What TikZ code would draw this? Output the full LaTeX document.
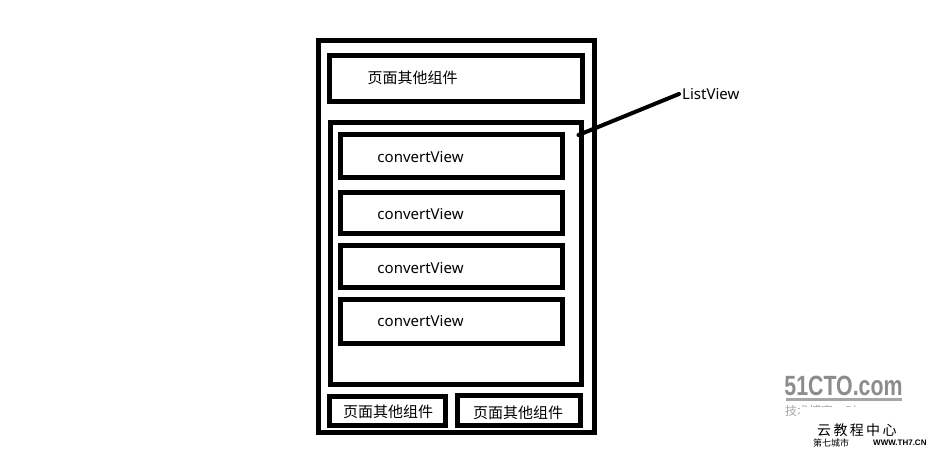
\documentclass[tikz,border=0pt]{standalone}
\usepackage{fontspec}
\setmainfont{Noto Sans}
\newfontfamily\cjk{Noto Sans CJK SC}
\newfontfamily\wmfont{Liberation Sans}
\begin{document}
\begin{tikzpicture}[x=1pt,y=-1pt,
  frame/.style={draw=black, line width=5pt, inner sep=0pt, outer sep=0pt, rectangle},
  lbl/.style={font=\fontsize{15}{18}\selectfont, inner sep=0pt},
  cn/.style={font=\cjk\fontsize{15}{18}\selectfont, inner sep=0pt},
  wm/.style={inner sep=0pt}]
\useasboundingbox[fill=white] (0,0) rectangle (929,449);
% outer phone frame
\node[frame, minimum width=275.5pt, minimum height=391.5pt] (outer) at (456.25,236.25) {};
% top component
\node[frame, minimum width=253pt, minimum height=46.5pt] (top) at (455.5,78.75) {};
\node[cn] (toptxt) at (412.5,78) {页面其他组件};
% ListView
\node[frame, minimum width=251pt, minimum height=262pt] (lv) at (455.5,253.5) {};
% convertViews
\node[frame, minimum width=222.5pt, minimum height=43pt] (cv1) at (451.25,156) {};
\node[frame, minimum width=222.5pt, minimum height=41.5pt] (cv2) at (451.25,213.25) {};
\node[frame, minimum width=222.5pt, minimum height=41.5pt] (cv3) at (451.25,266.75) {};
\node[frame, minimum width=222.5pt, minimum height=44pt] (cv4) at (451.25,321.5) {};
\node[lbl] (cv1t) at (420.5,157) {convertView};
\node[lbl] (cv2t) at (420.5,214) {convertView};
\node[lbl] (cv3t) at (420.5,268) {convertView};
\node[lbl] (cv4t) at (420.5,321.5) {convertView};
% bottom components
\node[frame, minimum width=116.5pt, minimum height=28.5pt] (bl) at (387.25,410.75) {};
\node[frame, minimum width=123pt, minimum height=30pt] (br) at (519,410.5) {};
\node[cn] (blt) at (388,412) {页面其他组件};
\node[cn] (brt) at (518,413) {页面其他组件};
% ListView label and pointer
\node[lbl, anchor=west] (lvlabel) at (682,94) {ListView};
\coordinate (lvpt) at (578.5,135);
\draw[line width=4pt, line cap=round] (lvpt) -- ([xshift=-3pt]lvlabel.west);
% watermark
\node[wm, font=\wmfont\bfseries\fontsize{26}{26}\selectfont, text=black!45, xscale=0.82, yscale=1.07] (wm1) at (843.5,386) {51CTO.com};
\fill[black!35] (786,398) rectangle (902,400.5);
\node[wm, font=\cjk\fontsize{12}{12}\selectfont, text=black!35, anchor=west] (wm2) at (785,412) {技术博客\quad Blog};
\fill[white] (800,407) rectangle (929,449);
\node[wm, font=\cjk\fontsize{14}{14}\selectfont, anchor=west] (wm3) at (817,430) {云\,教\,程\,中\,心};
\node[wm, font=\cjk\fontsize{9}{9}\selectfont, anchor=west] (wm4) at (813,443) {第七城市};
\node[wm, font=\wmfont\bfseries\fontsize{8}{8}\selectfont, anchor=west] (wm5) at (873,443) {WWW.TH7.CN};
\end{tikzpicture}
\end{document}
